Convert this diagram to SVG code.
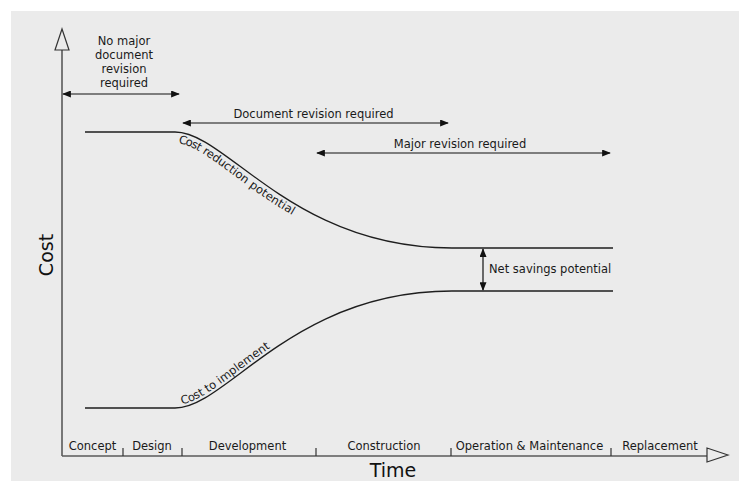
<svg xmlns="http://www.w3.org/2000/svg" width="739" height="481" viewBox="0 0 739 481">
  <style>
    .t { font-family: "DejaVu Sans", Verdana, sans-serif; font-size: 11.5px; fill: #1a1a1a; }
    .tm { text-anchor: middle; }
    .ax { font-family: "DejaVu Sans", Verdana, sans-serif; font-size: 19px; fill: #111; text-anchor: middle; }
    .axis { stroke: #5a5a5a; stroke-width: 1.6; fill: none; }
    .head { stroke: #333; stroke-width: 1.2; fill: #ebebeb; }
    .curve { stroke: #1e1e1e; stroke-width: 1.3; fill: none; }
    .span { stroke: #111; stroke-width: 1.2; fill: none; marker-start: url(#ah); marker-end: url(#ah); }
    .tick { stroke: #333; stroke-width: 1.2; }
  </style>
  <defs>
    <marker id="ah" viewBox="0 0 10 8" refX="9" refY="4" markerWidth="10" markerHeight="7" orient="auto-start-reverse" markerUnits="userSpaceOnUse">
      <path d="M0,0 L10,4 L0,8 z" fill="#111"/>
    </marker>
    <path id="upperPath" d="M85,132 H175 C227,132 292,248 452,248 H613"/>
    <path id="lowerPath" d="M85,408 H175 C227,408 292,291 452,291 H613"/>
  </defs>

  <!-- panel -->
  <rect x="11" y="11" width="728" height="470" fill="#ebebeb"/>

  <!-- axes -->
  <g id="axes">
    <line class="axis" x1="62" y1="50" x2="62" y2="456"/>
    <line class="axis" x1="62" y1="456" x2="707" y2="456" stroke="#333"/>
    <polygon class="head" points="62,29 55,50 69,50"/>
    <polygon class="head" points="728,455 707,448 707,462"/>
    <text class="ax" transform="translate(53,255) rotate(-90)">Cost</text>
    <text class="ax" x="393" y="477">Time</text>
  </g>

  <!-- phase ticks and labels -->
  <g id="phases">
    <line class="tick" x1="123" y1="448" x2="123" y2="456"/>
    <line class="tick" x1="182" y1="448" x2="182" y2="456"/>
    <line class="tick" x1="316" y1="448" x2="316" y2="456"/>
    <line class="tick" x1="451" y1="448" x2="451" y2="456"/>
    <line class="tick" x1="611" y1="448" x2="611" y2="456"/>
    <text class="t tm" x="92.5" y="450">Concept</text>
    <text class="t tm" x="152" y="450">Design</text>
    <text class="t tm" x="247.5" y="450">Development</text>
    <text class="t tm" x="384" y="450">Construction</text>
    <text class="t tm" x="529.5" y="450">Operation &amp; Maintenance</text>
    <text class="t tm" x="660" y="450">Replacement</text>
  </g>

  <!-- revision spans -->
  <g id="connectors">
    <line class="span" x1="63" y1="94" x2="179" y2="94"/>
    <line class="span" x1="183" y1="123" x2="448" y2="123"/>
    <line class="span" x1="317" y1="153" x2="610" y2="153"/>
    <line class="span" x1="483" y1="249" x2="483" y2="290"/>
  </g>

  <g id="no-major-revision">
    <text class="t tm" x="124" y="45">No major</text>
    <text class="t tm" x="124" y="59">document</text>
    <text class="t tm" x="124" y="73">revision</text>
    <text class="t tm" x="124" y="87">required</text>
  </g>
  <g id="document-revision">
    <text class="t tm" x="313.5" y="118">Document revision required</text>
  </g>
  <g id="major-revision">
    <text class="t tm" x="460" y="148">Major revision required</text>
  </g>

  <!-- cost curves -->
  <g id="cost-reduction">
    <use href="#upperPath" class="curve"/>
    <text class="t"><textPath href="#upperPath" startOffset="96"><tspan dy="11">Cost reduction potential</tspan></textPath></text>
  </g>
  <g id="cost-to-implement">
    <use href="#lowerPath" class="curve"/>
    <text class="t"><textPath href="#lowerPath" startOffset="98"><tspan dy="-3">Cost to implement</tspan></textPath></text>
  </g>
  <g id="net-savings">
    <text class="t" x="489" y="273">Net savings potential</text>
  </g>
</svg>
